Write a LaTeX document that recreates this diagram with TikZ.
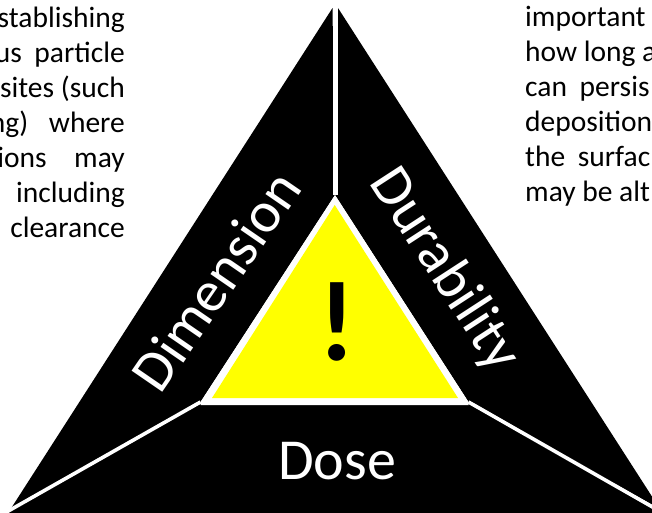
\documentclass[tikz,border=0pt]{standalone}
\usepackage{fontspec}
\setmainfont{Carlito}
\definecolor{pureyellow}{RGB}{255,255,0}
\tikzset{
  outer/.style={fill=black,draw=none},
  divider/.style={draw=white,line width=3.6pt,line cap=butt},
  big/.style={text=white,font=\fontsize{58}{58}\selectfont,inner sep=0pt},
  body/.style={text=black,font=\fontsize{29.5}{30}\selectfont,inner sep=0pt}
}
\begin{document}
\begin{tikzpicture}[x=1pt,y=-1pt]
\clip (0,0) rectangle (652,512);
\fill[white] (0,0) rectangle (652,512);
\coordinate (apexL) at (332.5,8);
\coordinate (apexR) at (338,8);
\coordinate (left) at (10,510);
\coordinate (right) at (660,509);
\coordinate (apex) at (335,3);
\coordinate (il) at (200.5,402);
\coordinate (ir) at (468.5,402);
\coordinate (it) at (335,195);
\coordinate (bl) at (3,514);
\coordinate (br) at (656,509);
% black sectors
\fill[outer] (apexL) -- (left) -- (il) -- (it) -- cycle;
\fill[outer] (apexR) -- (it) -- (ir) -- (right) -- cycle;
\fill[outer] (il) -- (ir) -- (br) -- (660,520) -- (0,520) -- (bl) -- cycle;
% dividers
\draw[divider,line width=5pt] (it) -- (apex);
\draw[divider] (il) -- (bl);
\draw[divider] (ir) -- (br);
% inner triangle
\fill[white] (it) -- (ir) -- (468.5,405) -- (200.5,405) -- (il) -- cycle;
\fill[pureyellow] (334.7,205) -- (458,398) -- (212,398) -- cycle;
\node[inner sep=0pt,font=\bfseries\fontsize{114}{114}\selectfont] (mark) at (337,322) {!};
% labels
\node[big,rotate=55.5,anchor=center] (dimension) at (216,281) {Dimension};
\node[big,rotate=-57,anchor=center] (durability) at (444,270) {Durability};
\node[big,anchor=base] (dose) at (337,479) {Dose};
% left text
\node[body,anchor=base east] (l1) at (125,27) {stablishing};
\node[body,anchor=base east] (l2) at (125,62) {us\hspace{6pt} particle};
\node[body,anchor=base east] (l3) at (125,97) {sites (such};
\node[body,anchor=base east] (l4) at (125,132) {ng)\hspace{14pt} where};
\node[body,anchor=base east] (l5) at (125,167) {ions\hspace{21pt} may};
\node[body,anchor=base east] (l6) at (125,202) {including};
\node[body,anchor=base east] (l7) at (125,237) {clearance};
% right text
\node[body,anchor=base west] (r1) at (525,26) {important};
\node[body,anchor=base west] (r2) at (525,61) {how long a};
\node[body,anchor=base west] (r3) at (525,96) {can\hspace{6pt} persis};
\node[body,anchor=base west] (r4) at (525,131) {deposition};
\node[body,anchor=base west] (r5) at (525,166) {the\hspace{6pt} surfac};
\node[body,anchor=base west] (r6) at (525,201) {may be alt};
\end{tikzpicture}
\end{document}
